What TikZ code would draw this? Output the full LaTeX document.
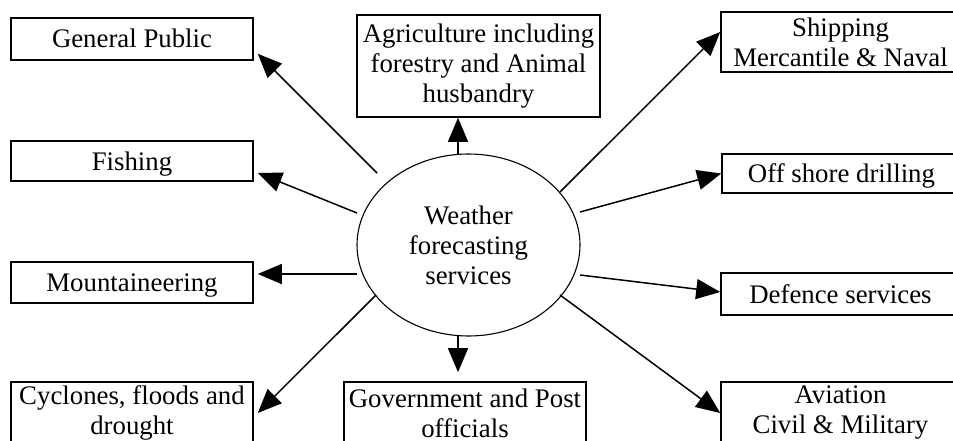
\documentclass[tikz,border=0pt]{standalone}
\usepackage{fontspec}
\setmainfont{Liberation Serif}
\usetikzlibrary{arrows.meta,calc,shapes.geometric}
\begin{document}
\begin{tikzpicture}[x=1pt,y=-1pt,
  txt/.style={font=\fontsize{26.8}{30}\selectfont, text=black},
  box/.style={txt, draw=black, line width=1.6pt, inner sep=0pt, align=center},
  onebox/.style={box, text height=18pt, text depth=0pt},
  arr/.style={line width=1.5pt, draw=black, -{Triangle[length=24pt,width=20pt]}},
]
\useasboundingbox (0,0) rectangle (953,441);
\clip (0,0) rectangle (953,441);
\fill[white] (0,0) rectangle (953,441);

% boxes
\node[onebox, minimum width=242pt, minimum height=42pt] (gp) at (132,39) {General Public};
\node[onebox, minimum width=242pt, minimum height=40pt] (fish) at (132,161) {Fishing};
\node[onebox, minimum width=242pt, minimum height=41pt] (mount) at (132,282.5) {Mountaineering};
\node[box, minimum width=242pt, minimum height=62pt] (cyc) at (132,413) {Cyclones, floods and\\drought};
\node[box, minimum width=243pt, minimum height=102pt] (agri) at (478.5,66) {Agriculture including\\forestry and Animal\\husbandry};
\node[box, minimum width=242pt, minimum height=62pt] (gov) at (465,413) {Government and Post\\officials};
\node[box, minimum width=239pt, minimum height=60pt] (ship) at (840.5,42) {Shipping\\Mercantile \& Naval};
\node[onebox, minimum width=239pt, minimum height=39pt] (off) at (841.5,173.5) {Off shore drilling};
\node[onebox, minimum width=239pt, minimum height=42pt] (def) at (840.5,294) {Defence services};
\node[box, minimum width=239pt, minimum height=62pt] (avi) at (840.5,413) {Aviation\\Civil \& Military};

% centre
\node[txt, ellipse, draw=black, line width=1.1pt, minimum width=223pt, minimum height=182pt,
      inner sep=0pt, align=center] (w) at (468.5,245) {Weather\\forecasting\\services};

\coordinate (atop) at ($(w)+(-10.5,-91)$);
\coordinate (abot) at ($(w)+(-10.5,91)$);

% connectors
\draw[arr] ($(w)+(-91.5,-72)$) -- ($(gp.south east)+(4,-7)$);
\draw[arr] (atop) -- (atop |- agri.south);
\draw[arr] ($(w)+(-111.5,-32)$) -- ($(fish.east)+(4,12)$);
\draw[arr] ($(w)+(-111.5,29)$) -- ($(mount.east)+(4,-8.5)$);
\draw[arr] ($(w)+(-92.5,50)$) -- ($(cyc.east)+(4,0)$);
\draw[arr] (abot) -- ($(abot |- gov.north)+(0,-9)$);
\draw[arr] ($(w)+(91.5,-53)$) -- ($(ship.west)+(0,-10)$);
\draw[arr] ($(w)+(111.5,-33)$) -- (off.west);
\draw[arr] ($(w)+(111.5,30)$) -- ($(def.west)+(0,-2)$);
\draw[arr] ($(w)+(91.5,50)$) -- (avi.west);
\end{tikzpicture}
\end{document}
